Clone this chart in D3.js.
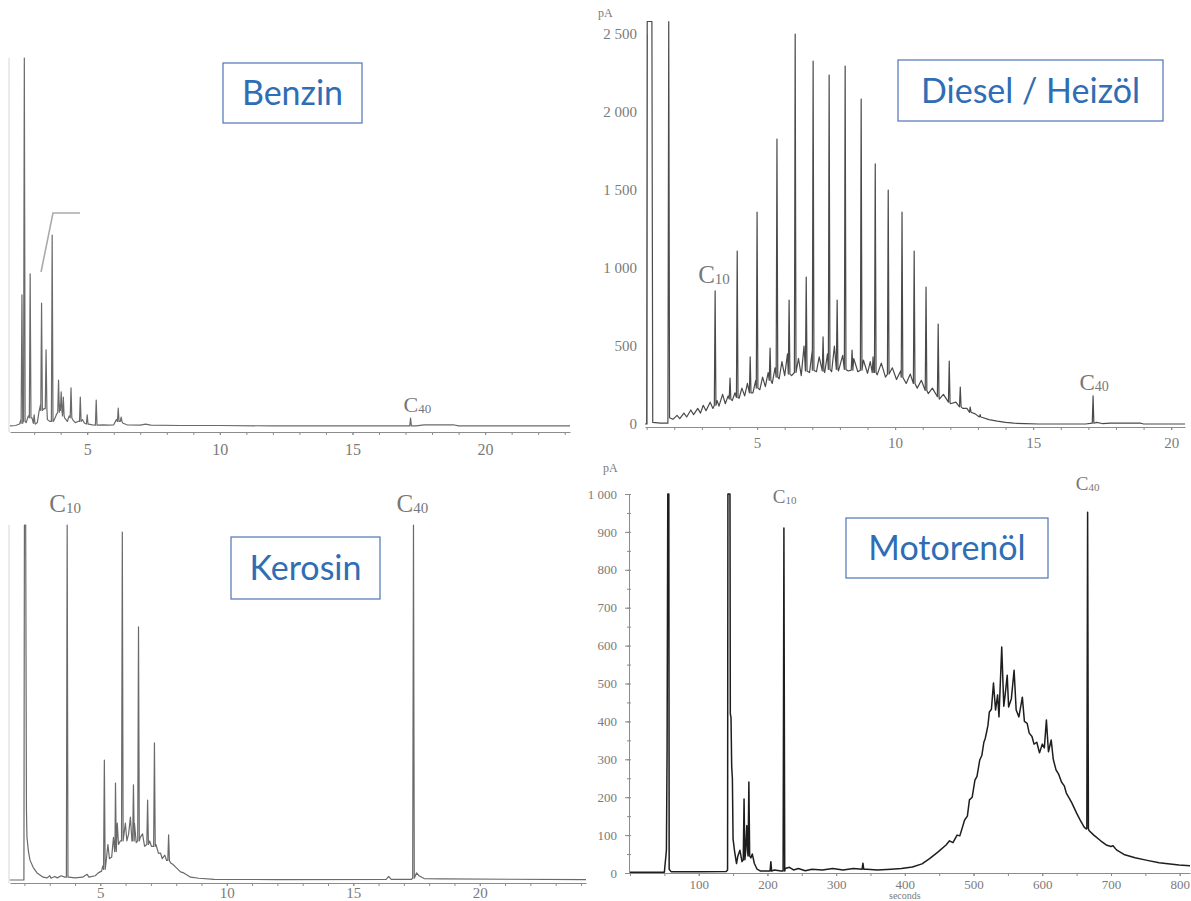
<!DOCTYPE html>
<html>
<head>
<meta charset="utf-8" />
<script src="https://d3js.org/d3.v7.min.js"></script>
<style>
  body { margin: 0; background: #fff; }
  svg { display: block; }
</style>
</head>
<body>
<div id="chart"></div>
<script>
// ---- data ----
// base traces: [time, signal]; spikes: [time, top, base]

// Benzin (minutes, arbitrary units)
var benzinBase = [
  [2.09, 3], [2.3, 4], [2.45, 8], [2.5, 20], [2.58, 15], [2.7, 12], [2.78, 30], [2.92, 25],
  [2.97, 10], [3.05, 8], [3.12, 12], [3.18, 40], [3.24, 60], [3.38, 50], [3.5, 20], [3.6, 15],
  [3.75, 18], [3.85, 35], [3.97, 60], [4.05, 40], [4.15, 25], [4.25, 15], [4.32, 30], [4.45, 20],
  [4.55, 12], [4.65, 15], [4.82, 20], [4.9, 10], [5.05, 8], [5.2, 6], [5.4, 5], [5.6, 6],
  [5.8, 5], [6.0, 6], [6.1, 20], [6.35, 10], [6.5, 6], [7.0, 5], [7.2, 8], [7.4, 5],
  [8.5, 4], [10, 4], [12, 3], [15, 3], [17.0, 3], [17.4, 3], [17.7, 6], [18.8, 6], [19, 3], [23.2, 3]
];
var benzinSpikes = [
  [2.54, 358, 10], [2.63, 1000, 15], [2.85, 415, 25], [3.0, 33, 10], [3.28, 336, 45],
  [3.45, 209, 50], [3.68, 520, 15], [3.92, 127, 40], [4.02, 95, 45], [4.1, 81, 30],
  [4.39, 106, 25], [4.74, 81, 15], [5.0, 33, 8], [5.34, 73, 5], [6.17, 51, 15],
  [6.28, 27, 15], [17.19, 24, 3]
];
var benzinBracket = [[3.26, 420], [3.71, 580], [4.73, 580]];

// Diesel / Heizöl (minutes, pA)
var dieselBase = [
  [0.94, 0], [1.0, 0], [1.02, 2580], [1.19, 2580], [1.22, 10], [1.5, 5], [1.77, 5], [1.8, 2580], [1.83, 40],
  [1.95, 30], [2.1, 55], [2.2, 35], [2.35, 70], [2.45, 45], [2.6, 90], [2.7, 60], [2.85, 100],
  [2.95, 70], [3.05, 120], [3.15, 85], [3.3, 140], [3.4, 100], [3.55, 150], [3.62, 115], [3.75, 190],
  [3.85, 130], [3.95, 180], [4.1, 150], [4.2, 200], [4.35, 165], [4.45, 230], [4.55, 180], [4.65, 260],
  [4.85, 200], [4.95, 280], [5.1, 220], [5.2, 300], [5.3, 240], [5.4, 330], [5.55, 260], [5.65, 360],
  [5.8, 290], [5.9, 400], [6.0, 310], [6.1, 450], [6.25, 310], [6.5, 420], [6.6, 310], [6.7, 500],
  [6.9, 330], [7.0, 470], [7.15, 335], [7.25, 430], [7.45, 330], [7.55, 450], [7.7, 335], [7.8, 500],
  [7.95, 340], [8.1, 440], [8.3, 340], [8.5, 420], [8.65, 335], [8.85, 410], [9.0, 325], [9.1, 400],
  [9.35, 315], [9.5, 390], [9.65, 300], [9.9, 360], [10.05, 285], [10.2, 340], [10.4, 260], [10.55, 320],
  [10.8, 230], [10.95, 280], [11.2, 195], [11.35, 230], [11.6, 160], [11.75, 190], [12.0, 130], [12.2, 140],
  [12.45, 100], [12.6, 100], [12.9, 65], [13.1, 45], [13.4, 28], [13.7, 18], [14.0, 10], [14.3, 5],
  [14.7, 2], [15.2, 0], [16.9, 0], [17.3, 10], [17.5, 3], [17.8, 5], [18.9, 5], [19.0, 0], [20.5, 0]
];
var dieselSpikes = [
  [3.48, 853, 120], [4.02, 295, 160], [4.28, 1109, 170], [4.75, 430, 200], [5.0, 1359, 230],
  [5.47, 487, 280], [5.72, 1827, 300], [6.16, 795, 320], [6.38, 2500, 330], [6.78, 942, 340],
  [7.03, 2327, 345], [7.39, 558, 340], [7.61, 2237, 350], [7.9, 795, 350], [8.19, 2295, 350],
  [8.44, 474, 345], [8.77, 2083, 345], [9.2, 430, 330], [9.28, 1667, 330], [9.75, 1500, 320],
  [10.25, 1359, 300], [10.69, 1109, 260], [11.12, 878, 215], [11.56, 641, 175], [11.96, 404, 140],
  [12.36, 237, 110], [12.72, 109, 75], [13.08, 60, 45], [17.17, 180, 5]
];
var dieselYTicks = [0, 500, 1000, 1500, 2000, 2500];

// Kerosin (minutes, arbitrary units)
var kerosinBase = [
  [1.43, 0], [1.98, 0], [2.0, 1000], [2.05, 1000], [2.08, 200], [2.1, 121], [2.16, 80], [2.22, 56],
  [2.35, 35], [2.5, 20], [2.74, 8], [2.9, 6], [3.0, 12], [3.05, 5], [3.2, 10], [3.3, 6], [3.45, 12],
  [3.6, 8], [3.75, 8], [4.0, 6], [4.3, 8], [4.48, 16], [4.55, 8], [4.8, 12], [4.92, 20], [5.05, 25],
  [5.1, 40], [5.22, 45], [5.3, 100], [5.36, 60], [5.45, 65], [5.52, 120], [5.58, 90], [5.67, 160],
  [5.72, 100], [5.79, 110], [5.92, 120], [5.99, 160], [6.05, 110], [6.12, 130], [6.19, 177], [6.25, 110],
  [6.35, 160], [6.42, 105], [6.58, 120], [6.67, 130], [6.75, 95], [6.95, 110], [7.02, 95], [7.2, 100],
  [7.3, 75], [7.38, 76], [7.45, 60], [7.55, 70], [7.62, 55], [7.78, 48], [7.85, 45], [8.0, 35],
  [8.17, 23], [8.3, 20], [8.57, 8], [8.9, 5], [9.5, 2], [12, 1], [16.3, 2], [16.4, 10], [16.5, 2],
  [17.3, 2], [17.5, 20], [17.6, 12], [17.8, 4], [18.5, 3], [24.2, 1]
];
var kerosinSpikes = [
  [3.69, 1000, 8], [5.16, 338, 30], [5.6, 273, 80], [5.87, 980, 110], [6.31, 268, 110],
  [6.51, 713, 110], [6.87, 225, 100], [7.14, 386, 95], [7.7, 127, 55], [17.38, 1000, 5]
];

// Motorenöl (seconds, pA)
var motorBase = [
  [0, 2], [50, 2], [53, 60], [54, 330], [55, 1000], [56.5, 1000], [57, 10], [60, 3], [100, 3],
  [140, 4], [142, 8], [142.5, 1000], [145.5, 1000], [146, 420], [147, 410], [148, 280], [149, 250],
  [150, 90], [152, 60], [155, 25], [157, 45], [160, 60], [163, 30], [168, 50], [170, 125], [171, 60],
  [176, 40], [178, 50], [181, 25], [185, 10], [190, 5], [200, 5], [210, 8], [220, 5], [226, 12],
  [232, 15], [238, 8], [245, 12], [255, 6], [265, 10], [280, 8], [295, 12], [310, 8], [325, 12],
  [345, 10], [360, 8], [380, 10], [395, 12], [411, 16], [425, 24], [436, 38], [448, 55], [460, 74],
  [465, 85], [470, 80], [476, 100], [480, 98], [487, 140], [491, 150], [494, 193], [498, 200],
  [502, 245], [505, 255], [509, 298], [512, 310], [515, 345], [517, 355], [519, 372], [521, 390],
  [523, 425], [526, 432], [529, 501], [532, 430], [535, 470], [537, 412], [541, 596], [544, 440],
  [546, 470], [549, 522], [551, 438], [555, 460], [559, 535], [562, 430], [566, 412], [571, 464],
  [574, 400], [578, 395], [581, 369], [585, 360], [588, 340], [592, 345], [596, 317], [600, 340],
  [603, 330], [606, 404], [609, 320], [613, 351], [616, 300], [620, 272], [624, 260], [628, 240],
  [632, 230], [635, 211], [640, 195], [643, 185], [650, 158], [655, 140], [661, 121], [664, 116],
  [668, 112], [675, 100], [685, 85], [693, 74], [700, 70], [703, 72], [708, 61], [720, 48],
  [735, 40], [751, 34], [770, 27], [799, 21], [815, 19]
];
var motorSpikes = [
  [166, 195, 35], [173, 240, 45], [205, 30, 5], [224, 910, 5], [339, 26, 10], [666, 952, 117]
];
var motorYTicks = [0, 100, 200, 300, 400, 500, 600, 700, 800, 900, 1000];

// minute tick labels
var minuteTicks = [5, 10, 15, 20];

// ---- drawing ----
var W = 1191, H = 901;
var svg = d3.select("#chart").append("svg").attr("width", W).attr("height", H);

var fmt = d3.formatLocale({ decimal: ".", thousands: " ", grouping: [3], currency: ["", ""] }).format(",d");
var tickFont = "Liberation Serif, DejaVu Serif, serif";
var grey = "#7a7a7a";

var panels = [
  { title: "Benzin", base: benzinBase, spikes: benzinSpikes,
    xDomain: [2.09, 23.2], xRange: [10, 570], yDomain: [0, 1000], yRange: [427, 58],
    axisY: 432, major: minuteTicks, minor: d3.range(3, 24), pad: 9, fs: 16,
    leftLine: true, stroke: "#6a6a6a", sw: 1.2,
    labels: [["C", "40", 17.45, 41, 22]],
    box: [223, 63, 139, 60] },
  { title: "Diesel / Heizöl", base: dieselBase, spikes: dieselSpikes,
    xDomain: [0.94, 20.5], xRange: [645, 1185], yDomain: [0, 2500], yRange: [424, 34],
    axisY: 427, major: minuteTicks, minor: d3.range(1, 21), pad: 7, fs: 15,
    yTicks: dieselYTicks, yAxisX: 647, unit: [598, 17], stroke: "#4a4a4a", sw: 1.2,
    labels: [["C", "10", 3.44, 904, 25], ["C", "40", 17.21, 218, 23]],
    box: [898, 60, 265, 61] },
  { title: "Kerosin", base: kerosinBase, spikes: kerosinSpikes,
    xDomain: [1.43, 24.2], xRange: [10, 586], yDomain: [0, 1000], yRange: [880, 525],
    axisY: 883, major: minuteTicks, minor: d3.range(2, 25), pad: 1, fs: 15,
    leftLine: true, stroke: "#6a6a6a", sw: 1.2,
    labels: [["C", "10", 3.61, 1037, 25], ["C", "40", 17.34, 1037, 25]],
    box: [231, 537, 149, 62] },
  { title: "Motorenöl", base: motorBase, spikes: motorSpikes,
    xDomain: [0, 815], xRange: [630, 1190], yDomain: [0, 1000], yRange: [873, 494],
    axisY: 873, major: [100, 200, 300, 400, 500, 600, 700, 800], minor: d3.range(0, 816, 50), pad: 4, fs: 13,
    yTicks: motorYTicks, yMinor: d3.range(0, 1001, 50), yAxisX: 629, unit: [603, 472], stroke: "#1e1e1e", sw: 1.5,
    xTitle: "seconds",
    labels: [["C", "10", 225, 976, 19], ["C", "40", 666, 1010, 19]],
    box: [846, 518, 202, 60] }
];

function buildPoints(base, spikes, x, y) {
  var pts = base.map(function(d) { return [x(d[0]), y(d[1])]; });
  spikes.forEach(function(s) {
    var px = x(s[0]);
    pts.push([px - 0.8, y(s[2])], [px, y(s[1])], [px + 0.8, y(s[2])]);
  });
  pts.sort(function(a, b) { return a[0] - b[0]; });
  return pts;
}

function styleAxis(g, fs) {
  g.selectAll("path, line").attr("stroke", "#8c8c8c").attr("stroke-width", 1);
  g.selectAll("text").attr("fill", grey).style("font-family", tickFont).style("font-size", fs + "px");
}

panels.forEach(function(p) {
  var x = d3.scaleLinear().domain(p.xDomain).range(p.xRange);
  var y = d3.scaleLinear().domain(p.yDomain).range(p.yRange);
  var g = svg.append("g");

  if (p.leftLine) {
    g.append("line").attr("x1", p.xRange[0] - 1).attr("x2", p.xRange[0] - 1)
      .attr("y1", p.yRange[1]).attr("y2", p.axisY)
      .attr("stroke", "#d6d6d6").attr("stroke-width", 1);
  }

  // x axis: minor ticks, then labelled ticks
  var ax = g.append("g").attr("transform", "translate(0," + p.axisY + ")");
  ax.append("g").call(d3.axisBottom(x).tickValues(p.minor).tickSizeInner(3).tickSizeOuter(0).tickFormat(""));
  var axMaj = ax.append("g").call(d3.axisBottom(x).tickValues(p.major).tickSizeInner(3).tickSizeOuter(0)
    .tickPadding(p.pad).tickFormat(d3.format("d")));
  axMaj.select(".domain").remove();
  styleAxis(ax, p.fs);

  if (p.yTicks) {
    var ay = g.append("g").attr("transform", "translate(" + p.yAxisX + ",0)");
    if (p.yMinor) {
      ay.append("g").call(d3.axisLeft(y).tickValues(p.yMinor).tickSizeInner(2).tickSizeOuter(0).tickFormat(""));
      ay.append("g").call(d3.axisRight(y).tickValues(p.yMinor).tickSizeInner(2).tickSizeOuter(0).tickFormat(""))
        .select(".domain").remove();
    }
    var ayMaj = ay.append("g").call(d3.axisLeft(y).tickValues(p.yTicks).tickSizeInner(p.yMinor ? 4 : 0)
      .tickSizeOuter(0).tickPadding(p.yMinor ? 8 : 10).tickFormat(fmt));
    if (p.yMinor) ayMaj.select(".domain").remove();
    styleAxis(ay, p.fs);
    if (!p.yMinor) ay.select(".domain").attr("stroke", "#b0b0b0");
    g.append("text").attr("x", p.unit[0]).attr("y", p.unit[1]).text("pA")
      .attr("fill", grey).style("font-family", tickFont).style("font-size", "12px");
  }

  if (p.xTitle) {
    g.append("text").attr("x", x(400)).attr("y", 899).attr("text-anchor", "middle").text(p.xTitle)
      .attr("fill", grey).style("font-family", tickFont).style("font-size", "10px");
  }

  // trace
  g.append("path")
    .attr("d", d3.line()(buildPoints(p.base, p.spikes, x, y)))
    .attr("fill", "none")
    .attr("stroke", p.stroke)
    .attr("stroke-width", p.sw)
    .attr("stroke-linejoin", "round");

  if (p.title === "Benzin") {
    g.append("path")
      .attr("d", d3.line().x(function(d) { return x(d[0]); }).y(function(d) { return y(d[1]); })(benzinBracket))
      .attr("fill", "none").attr("stroke", "#ababab").attr("stroke-width", 1.6);
  }

  // peak labels C10 / C40
  p.labels.forEach(function(l) {
    var t = g.append("text").attr("x", x(l[2])).attr("y", y(l[3])).attr("text-anchor", "middle")
      .attr("fill", "#777").style("font-family", tickFont).style("font-size", l[4] + "px");
    t.append("tspan").text(l[0]);
    t.append("tspan").text(l[1]).style("font-size", Math.round(l[4] * 0.6) + "px").attr("dy", "0.05em");
  });

  // title box
  var b = p.box;
  g.append("rect").attr("x", b[0]).attr("y", b[1]).attr("width", b[2]).attr("height", b[3])
    .attr("fill", "#fff").attr("stroke", "#4f74b8").attr("stroke-width", 1.2);
  g.append("text").attr("x", b[0] + b[2] / 2).attr("y", b[1] + b[3] / 2 + 12)
    .attr("text-anchor", "middle").text(p.title)
    .attr("fill", "#2f6db5").style("font-family", "Lato, 'Open Sans', sans-serif").style("font-size", "34px");
});
</script>
</body>
</html>
